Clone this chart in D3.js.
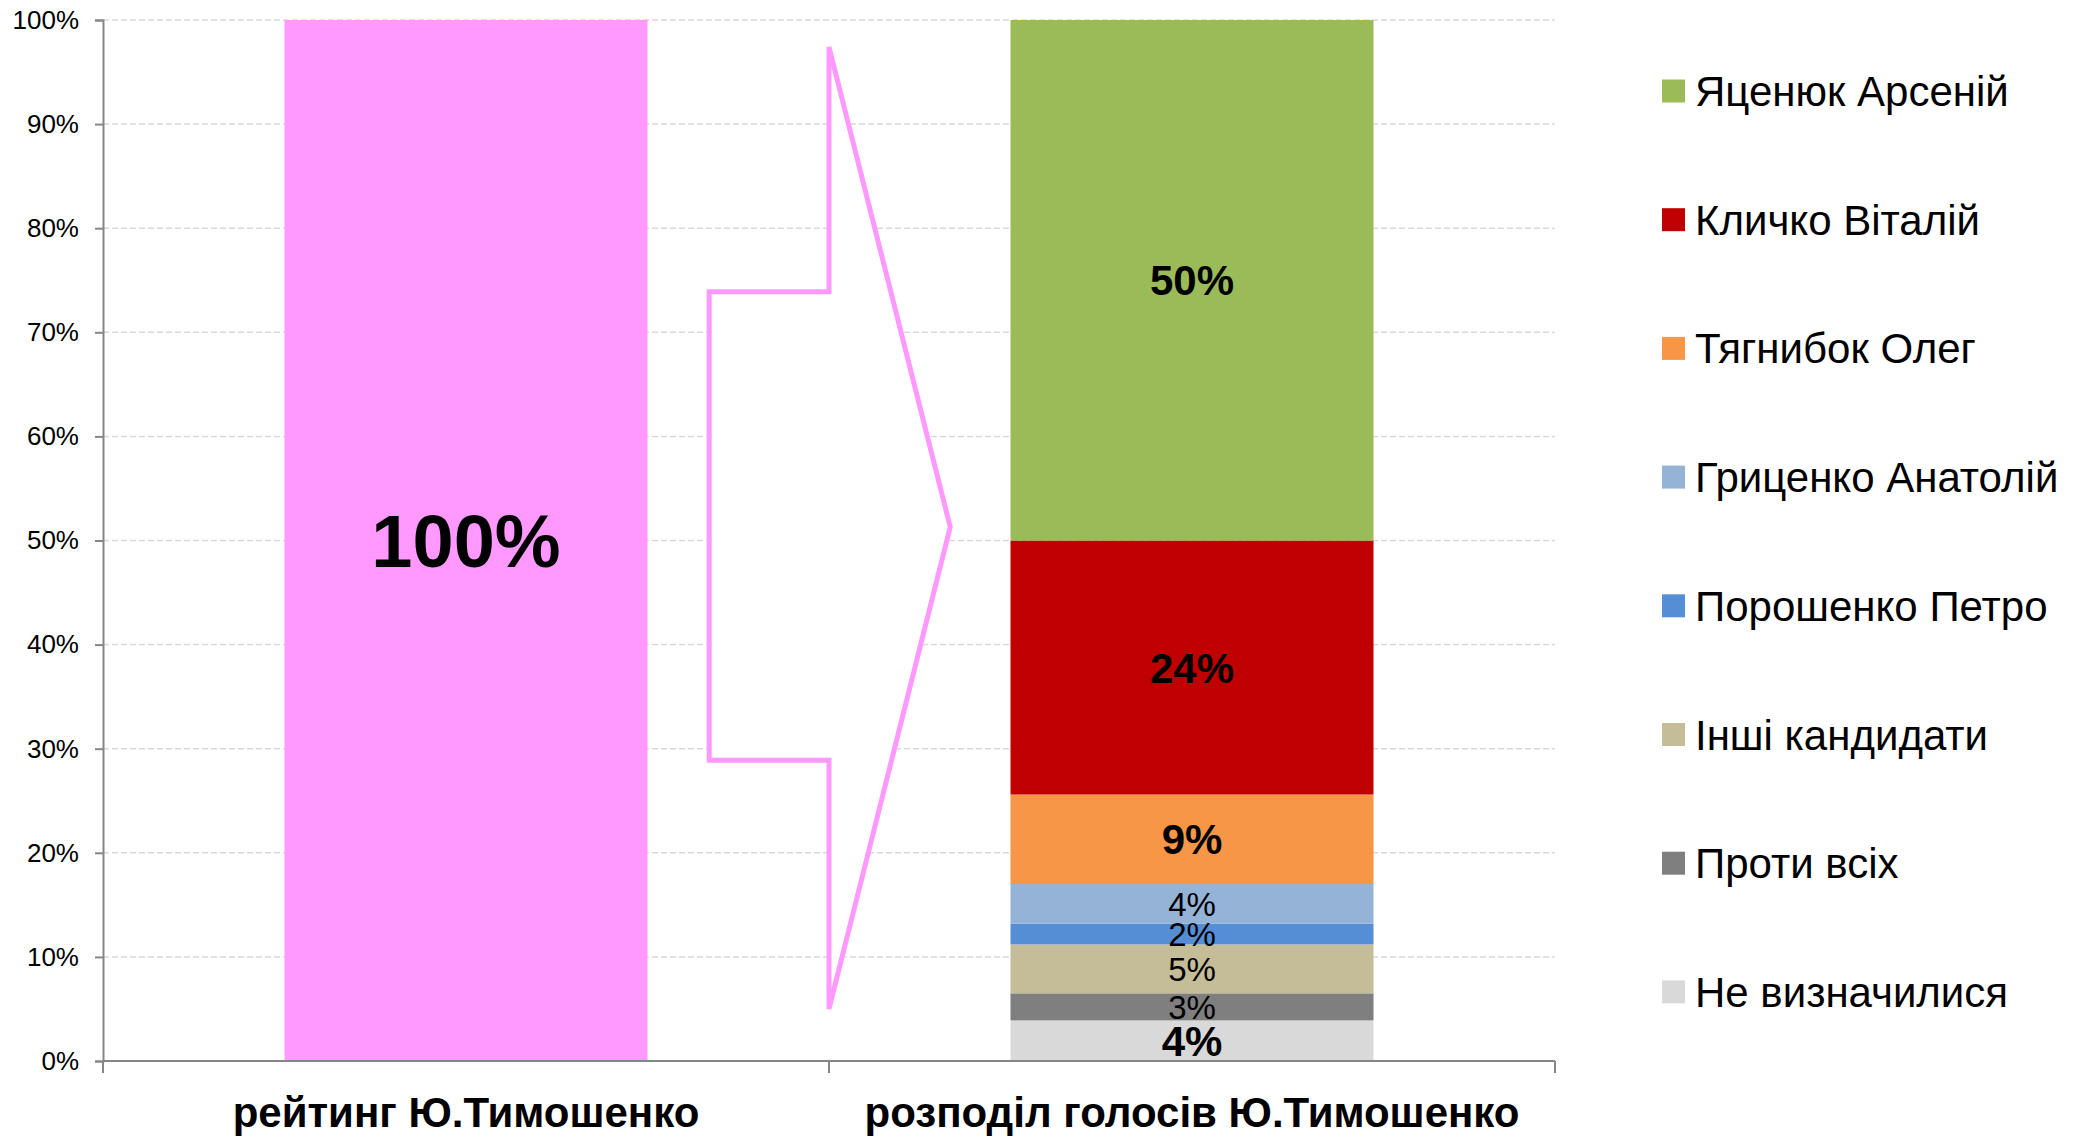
<!DOCTYPE html>
<html>
<head>
<meta charset="utf-8">
<script src="https://cdn.jsdelivr.net/npm/d3@7"></script>
<style>
  body { margin: 0; background: #fff; }
  svg { font-family: "Liberation Sans", Arial, sans-serif; }
</style>
</head>
<body>
<div id="chart"></div>
<script>
// categories on the x axis
var categories = ["рейтинг Ю.Тимошенко", "розподіл голосів Ю.Тимошенко"]

// left bar
var ratingValue = 100

// right stacked bar, legend order (top of stack first)
var candidates = ["Яценюк Арсеній", "Кличко Віталій", "Тягнибок Олег", "Гриценко Анатолій",
  "Порошенко Петро", "Інші кандидати", "Проти всіх", "Не визначилися"]
var shares = [50.0, 24.4, 8.6, 3.8, 2.0, 4.7, 2.6, 3.9]

var yTicks = [0, 10, 20, 30, 40, 50, 60, 70, 80, 90, 100]

var colors = ["#9BBB59", "#C00000", "#F79646", "#95B3D7", "#558ED5", "#C4BD97", "#7F7F7F", "#D9D9D9"]
var pink = "#FF99FF"
var boldNames = ["Яценюк Арсеній", "Кличко Віталій", "Тягнибок Олег", "Не визначилися"]

// arrow outline in data space: [band units from axis, percent]
var arrowPts = [[0.835, 73.9], [1.0, 73.9], [1.0, 97.4], [1.167, 51.3], [1.0, 5.0], [1.0, 28.9], [0.835, 28.9]]

var W = 2087, H = 1138
var margin = { top: 20, left: 103, right: 532, bottom: 77 }
var plotW = W - margin.left - margin.right,
  plotH = H - margin.top - margin.bottom

var svg = d3.select("#chart").append("svg")
  .attr("width", W).attr("height", H)
var g = svg.append("g")
  .attr("transform", "translate(" + margin.left + "," + margin.top + ")")

var x = d3.scaleBand()
  .domain(categories)
  .range([0, plotW])
  .paddingInner(0.5)
  .paddingOuter(0.25)
var step = x.step()
var y = d3.scaleLinear().domain([0, 100]).range([plotH, 0])

// grid lines
g.append("g").selectAll("line")
  .data(yTicks.filter(function(d) { return d > 0 }))
  .enter().append("line")
  .attr("x1", 0).attr("x2", plotW)
  .attr("y1", function(d) { return y(d) })
  .attr("y2", function(d) { return y(d) })
  .attr("stroke", "#D9D9D9")
  .attr("stroke-width", 1.5)
  .attr("stroke-dasharray", "6,3")

// left bar
g.append("rect")
  .attr("x", x(categories[0]))
  .attr("width", x.bandwidth())
  .attr("y", y(ratingValue))
  .attr("height", y(0) - y(ratingValue))
  .attr("fill", pink)

g.append("text")
  .attr("x", x(categories[0]) + x.bandwidth() / 2)
  .attr("y", y(ratingValue / 2) + 74 * 0.36)
  .attr("text-anchor", "middle")
  .style("font-size", "74px")
  .style("font-weight", "bold")
  .text(ratingValue + "%")

// stacked bar (bottom first)
var stackData = candidates.map(function(n, i) { return { name: n, value: shares[i], color: colors[i] } }).reverse()
var total = d3.sum(shares)
var acc = 0
stackData.forEach(function(d) {
  d.y0 = acc / total * 100
  acc += d.value
  d.y1 = acc / total * 100
})

function labelSize(d) { return boldNames.indexOf(d.name) >= 0 ? 42 : 33 }

g.append("g").selectAll("rect")
  .data(stackData)
  .enter().append("rect")
  .attr("x", x(categories[1]))
  .attr("width", x.bandwidth())
  .attr("y", function(d) { return y(d.y1) })
  .attr("height", function(d) { return y(d.y0) - y(d.y1) })
  .attr("fill", function(d) { return d.color })

g.append("g").selectAll("text")
  .data(stackData)
  .enter().append("text")
  .attr("x", x(categories[1]) + x.bandwidth() / 2)
  .attr("y", function(d) { return y((d.y0 + d.y1) / 2) + labelSize(d) * 0.36 })
  .attr("text-anchor", "middle")
  .style("font-size", function(d) { return labelSize(d) + "px" })
  .style("font-weight", function(d) { return boldNames.indexOf(d.name) >= 0 ? "bold" : "normal" })
  .text(function(d) { return Math.round(d.value) + "%" })

// arrow
var bx = d3.scaleLinear().domain([0, 1]).range([0, step])
g.append("path")
  .attr("d", d3.line()
    .x(function(d) { return bx(d[0]) })
    .y(function(d) { return y(d[1]) })(arrowPts) + "Z")
  .attr("fill", "#fff")
  .attr("stroke", pink)
  .attr("stroke-width", 5)
  .attr("stroke-linejoin", "miter")

// y axis
var yAxis = g.append("g")
  .call(d3.axisLeft(y).tickValues(yTicks).tickFormat(function(d) { return d + "%" })
    .tickSize(8).tickPadding(16))
yAxis.select(".domain").attr("stroke", "#868686").attr("stroke-width", 2)
yAxis.selectAll(".tick line").attr("stroke", "#868686").attr("stroke-width", 2)
yAxis.selectAll("text")
  .style("font-size", "26px")
  .style("font-family", "'Liberation Sans', Arial, sans-serif")
  .attr("fill", "#000")

// x axis (ticks at band boundaries)
var xAxis = g.append("g").attr("transform", "translate(0," + plotH + ")")
xAxis.append("line")
  .attr("x1", 0).attr("x2", plotW)
  .attr("stroke", "#868686").attr("stroke-width", 2)
xAxis.selectAll(".bt")
  .data(d3.range(categories.length + 1))
  .enter().append("line")
  .attr("x1", function(i) { return i * step }).attr("x2", function(i) { return i * step })
  .attr("y1", 0).attr("y2", 12)
  .attr("stroke", "#868686").attr("stroke-width", 2)
xAxis.selectAll(".cat")
  .data(categories)
  .enter().append("text")
  .attr("x", function(d) { return x(d) + x.bandwidth() / 2 })
  .attr("y", 66)
  .attr("text-anchor", "middle")
  .style("font-size", "42px")
  .style("font-weight", "bold")
  .text(function(d) { return d })

// legend
var legend = svg.append("g").attr("transform", "translate(1662,0)")
var rows = legend.selectAll("g")
  .data(candidates)
  .enter().append("g")
  .attr("transform", function(d, i) { return "translate(0," + (91 + i * 128.7) + ")" })
rows.append("rect")
  .attr("x", 0).attr("y", -11.5)
  .attr("width", 23).attr("height", 23)
  .attr("fill", function(d, i) { return colors[i] })
rows.append("text")
  .attr("x", 33).attr("y", 15)
  .style("font-size", "42px")
  .text(function(d) { return d })
</script>
</body>
</html>
